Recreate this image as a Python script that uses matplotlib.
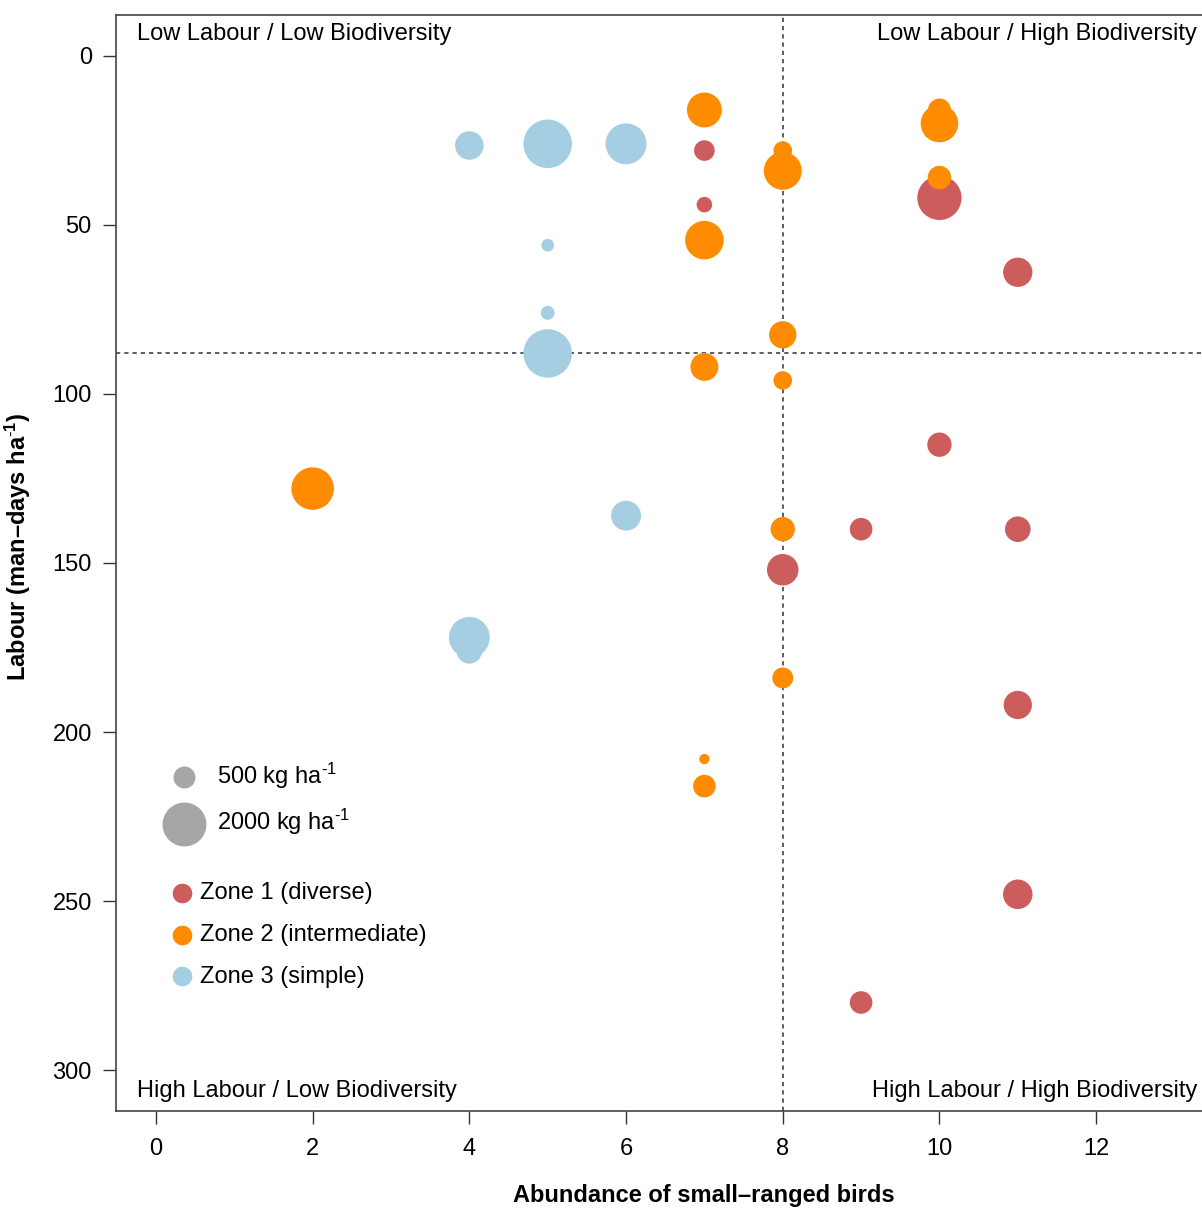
import matplotlib
matplotlib.use("Agg")
import matplotlib.pyplot as plt

plt.rcParams['font.family'] = ['Liberation Sans', 'DejaVu Sans']
plt.rcParams['mathtext.fontset'] = 'custom'
plt.rcParams['mathtext.rm'] = 'Liberation Sans'
plt.rcParams['mathtext.it'] = 'Liberation Sans:italic'
plt.rcParams['mathtext.bf'] = 'Liberation Sans:bold'

# ---- data (birds abundance, labour man-days/ha, yield kg/ha) ----
zone1_birds = [7, 7, 10, 11, 10, 9, 11, 8, 11, 11, 9]
zone1_labour = [28, 44, 42, 64, 115, 140, 140, 152, 192, 248, 280]
zone1_yield = [440, 250, 2030, 890, 615, 530, 680, 1030, 830, 905, 530]

zone2_birds = [7, 10, 10, 8, 8, 10, 7, 8, 7, 8, 2, 8, 8, 7, 7]
zone2_labour = [16, 16, 20, 28, 34, 36, 54.5, 82.5, 92, 96, 128, 140, 184, 208, 216]
zone2_yield = [1265, 545, 1460, 360, 1490, 575, 1540, 775, 810, 360, 1875, 615, 455, 110, 530]

zone3_birds = [4, 5, 6, 5, 5, 5, 6, 4, 4]
zone3_labour = [26.5, 26, 26, 56, 76, 88, 136, 176, 172]
zone3_yield = [845, 2440, 1735, 165, 200, 2440, 930, 675, 1735]

legend_yields = [500, 2000]
zone_labels = ['Zone 1 (diverse)', 'Zone 2 (intermediate)', 'Zone 3 (simple)']
zone_colors = ['#CD5C5C', '#FF8C00', '#A6CEE3']
x_ticks = [0, 2, 4, 6, 8, 10, 12]
y_ticks = [0, 50, 100, 150, 200, 250, 300]
labour_threshold = 88
birds_threshold = 8

SIZE_K = 0.5  # points^2 per kg/ha

W, H = 1202, 1208
fig = plt.figure(figsize=(W / 100, H / 100), dpi=100)
ax = fig.add_axes([116 / W, 1 - 1111 / H, (1292 - 116) / W, (1111 - 15) / H])

ax.set_xlim(-0.51, 14.5)
ax.set_ylim(312.1, -12.1)

ax.axhline(labour_threshold, color='#333333', lw=1.1, dashes=(2.8, 2.6), zorder=1)
ax.axvline(birds_threshold, color='#333333', lw=1.1, dashes=(2.8, 2.6), zorder=1)

groups = [(zone1_birds, zone1_labour, zone1_yield),
          (zone2_birds, zone2_labour, zone2_yield),
          (zone3_birds, zone3_labour, zone3_yield)]
for (bx, ly, yy), col in zip(groups, zone_colors):
    ax.scatter(bx, ly, s=[SIZE_K * v for v in yy], color=col, linewidths=0, zorder=3)

ax.set_xticks(x_ticks)
ax.set_yticks(y_ticks)
ax.tick_params(axis='both', labelsize=17, length=9.4, width=1.0, color='#333333', direction='out')
ax.tick_params(axis='x', pad=10)
ax.tick_params(axis='y', pad=8)
for side in ['left', 'top', 'bottom']:
    ax.spines[side].set_color('#444444')
    ax.spines[side].set_linewidth(1.2)
ax.spines['right'].set_visible(False)

ax.set_xlabel('Abundance of small–ranged birds', fontsize=17, fontweight='bold')
ax.set_ylabel('Labour (man–days ha$^{\\text{-}\\mathbf{1}}$)', fontsize=17, fontweight='bold')
ax.xaxis.set_label_coords(0.5, -0.0665)
ax.yaxis.set_label_coords(-0.0705, 0.515)

# corner annotations
ax.text(-0.24, -6.4, 'Low Labour / Low Biodiversity', fontsize=17, ha='left', va='center')
ax.text(13.29, -6.4, 'Low Labour / High Biodiversity', fontsize=17, ha='right', va='center')
ax.text(-0.24, 306.3, 'High Labour / Low Biodiversity', fontsize=17, ha='left', va='center')
ax.text(13.29, 306.3, 'High Labour / High Biodiversity', fontsize=17, ha='right', va='center')

# size legend
size_handles = [ax.scatter([], [], s=SIZE_K * v, color='#A6A6A6', linewidths=0) for v in legend_yields]
size_labels = ['%d kg ha$^{\\text{-}1}$' % v for v in legend_yields]

def fx(px):
    return (px - 116) / (1292 - 116)

def fy(py):
    return (1111 - py) / (1111 - 15)

leg1 = ax.legend(size_handles, size_labels, loc='center left',
                 bbox_to_anchor=(fx(163), fy(799)), frameon=False, fontsize=17,
                 handlelength=1.8, handletextpad=0.5, labelspacing=0.7,
                 borderpad=0, borderaxespad=0, scatterpoints=1)
ax.add_artist(leg1)

zone_handles = [ax.scatter([], [], s=SIZE_K * 400, color=c, linewidths=0) for c in zone_colors]
leg2 = ax.legend(zone_handles, zone_labels, loc='center left',
                 bbox_to_anchor=(fx(175), fy(935)), frameon=False, fontsize=17,
                 handlelength=0.6, handletextpad=0.46, labelspacing=0.83,
                 borderpad=0, borderaxespad=0, scatterpoints=1)

fig.savefig('out.png', dpi=100)
